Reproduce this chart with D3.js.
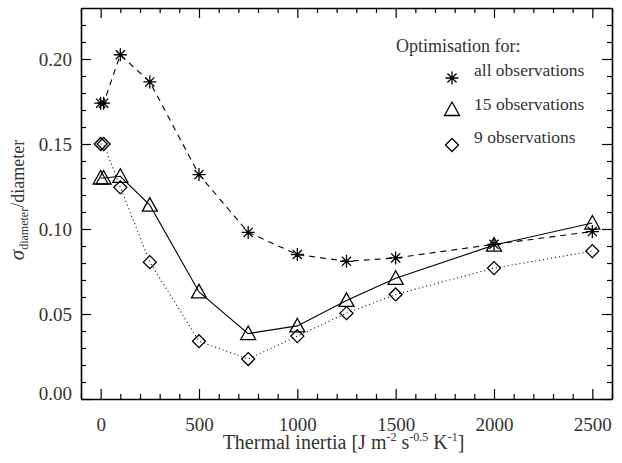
<!DOCTYPE html>
<html>
<head>
<meta charset="utf-8">
<script src="https://cdn.jsdelivr.net/npm/d3@7"></script>
</head>
<body style="margin:0">
<script>
// thermal inertia values (two runs near 0)
const inertia = [0, 15, 100, 250, 500, 750, 1000, 1250, 1500, 2000, 2500];
const allObs  = [0.174, 0.174, 0.2025, 0.1865, 0.132, 0.098, 0.085, 0.081, 0.083, 0.091, 0.0985];
const obs15   = [0.130, 0.130, 0.131, 0.114, 0.063, 0.0385, 0.043, 0.058, 0.071, 0.0905, 0.1035];
const obs9    = [0.150, 0.150, 0.1245, 0.0805, 0.034, 0.0235, 0.037, 0.0505, 0.0615, 0.077, 0.087];
const xTicks = [0, 500, 1000, 1500, 2000, 2500];
const yTicks = [0.00, 0.05, 0.10, 0.15, 0.20];

const series = [
  { name: "all observations", values: allObs, symbol: "asterisk", dash: "6,5" },
  { name: "15 observations",  values: obs15,  symbol: "triangle", dash: null },
  { name: "9 observations",   values: obs9,   symbol: "diamond",  dash: "1,3" }
];

const TXT = "#333";
const W = 622, H = 463;
const margin = { top: 8, right: 10, bottom: 64, left: 81 };
const width = W - margin.left - margin.right,
      height = H - margin.top - margin.bottom;

const svg = d3.select("body").append("svg")
  .attr("width", W).attr("height", H)
  .append("g")
  .attr("transform", `translate(${margin.left},${margin.top})`);

const x = d3.scaleLinear().domain([-100, 2600]).range([0, width]);
const y = d3.scaleLinear().domain([0, 0.23]).range([height, 0]);

const xMinor = d3.range(-100, 2601, 100).filter(v => v % 500 !== 0);
const yMinor = d3.range(1, 23).map(v => v / 100).filter(v => Math.round(v * 100) % 5 !== 0);

function serif(sel, size) {
  sel.attr("font-family", "Liberation Serif")
    .style("font-family", '"Liberation Serif"')
    .style("font-size", size + "px")
    .attr("fill", TXT);
}

function styleAxis(g) {
  g.attr("font-family", "Liberation Serif");
  g.selectAll("path").attr("stroke", "#000").attr("stroke-width", 1.6);
  g.selectAll("line").attr("stroke", "#000").attr("stroke-width", 1.2);
  g.selectAll("text").call(serif, 19);
}

// major axes with labels
svg.append("g").attr("transform", `translate(0,${height})`)
  .call(d3.axisBottom(x).tickValues(xTicks).tickSize(-10).tickSizeOuter(0).tickPadding(18.5).tickFormat(d3.format("d")))
  .call(styleAxis);
svg.append("g")
  .call(d3.axisLeft(y).tickValues(yTicks).tickSize(-10).tickSizeOuter(0).tickPadding(9).tickFormat(d3.format(".2f")))
  .call(styleAxis)
  .selectAll(".tick text").filter(d => d === 0).attr("dy", "0.05em");
svg.append("g")
  .call(d3.axisTop(x).tickValues(xTicks).tickSize(-10).tickSizeOuter(0).tickFormat(""))
  .call(styleAxis);
svg.append("g").attr("transform", `translate(${width},0)`)
  .call(d3.axisRight(y).tickValues(yTicks).tickSize(-10).tickSizeOuter(0).tickFormat(""))
  .call(styleAxis);

// minor ticks
[[d3.axisBottom(x).tickValues(xMinor), `translate(0,${height})`],
 [d3.axisTop(x).tickValues(xMinor), null],
 [d3.axisLeft(y).tickValues(yMinor), null],
 [d3.axisRight(y).tickValues(yMinor), `translate(${width},0)`]
].forEach(([ax, tr]) => {
  const g = svg.append("g");
  if (tr) g.attr("transform", tr);
  g.call(ax.tickSize(-5).tickSizeOuter(0).tickFormat("")).call(styleAxis);
  g.select("path").remove();
});

// axis titles
const xt = svg.append("text")
  .attr("x", width / 2 - 3).attr("y", height + 50)
  .attr("text-anchor", "middle")
  .call(serif, 20);
xt.append("tspan").text("Thermal inertia [J m");
xt.append("tspan").attr("dy", -8).style("font-size", "12px").text("-2");
xt.append("tspan").attr("dy", 8).text(" s");
xt.append("tspan").attr("dy", -8).style("font-size", "12px").text("-0.5");
xt.append("tspan").attr("dy", 8).text(" K");
xt.append("tspan").attr("dy", -8).style("font-size", "12px").text("-1");
xt.append("tspan").attr("dy", 8).text("]");

const yt = svg.append("text")
  .attr("transform", `translate(${24 - margin.left},${200 - margin.top}) rotate(-90)`)
  .attr("text-anchor", "middle")
  .call(serif, 18);
yt.append("tspan").style("font-style", "italic").style("font-size", "21px").text("σ");
yt.append("tspan").attr("dy", 4).style("font-size", "12px").text("diameter");
yt.append("tspan").attr("dy", -4).text("/diameter");

// symbols
function symbolPath(type, s) {
  if (type === "asterisk") {
    const a = s * 0.7;
    return `M${-s},0L${s},0M0,${-s}L0,${s}M${-a},${-a}L${a},${a}M${-a},${a}L${a},${-a}`;
  }
  if (type === "triangle") {
    return `M0,${-s}L${s},${s * 0.8}L${-s},${s * 0.8}Z`;
  }
  return `M0,${-s}L${s},0L0,${s}L${-s},0Z`;
}
const symSize = { asterisk: 6.5, triangle: 7.5, diamond: 6.5 };

series.forEach(sr => {
  const pts = inertia.map((t, i) => [t, sr.values[i]]);
  svg.append("path")
    .datum(pts)
    .attr("fill", "none")
    .attr("stroke", "#000")
    .attr("stroke-width", 1.1)
    .attr("stroke-dasharray", sr.dash)
    .attr("d", d3.line().x(d => x(d[0])).y(d => y(d[1])));
  svg.selectAll(null)
    .data(pts)
    .enter()
    .append("path")
    .attr("transform", d => `translate(${x(d[0])},${y(d[1])})`)
    .attr("d", symbolPath(sr.symbol, symSize[sr.symbol]))
    .attr("fill", "none")
    .attr("stroke", "#000")
    .attr("stroke-width", 1.3);
});

// legend
const lg = svg.append("g").attr("transform", `translate(${396 - margin.left},${52 - margin.top})`);
lg.append("text").attr("x", 0).attr("y", 0).call(serif, 18).text("Optimisation for:");
series.forEach((sr, i) => {
  const row = lg.append("g").attr("transform", `translate(0,${24 + i * 33.5})`);
  row.append("path")
    .attr("transform", `translate(56,${sr.symbol === "triangle" ? 0 : 2})`)
    .attr("d", symbolPath(sr.symbol, symSize[sr.symbol]))
    .attr("fill", "none").attr("stroke", "#000").attr("stroke-width", 1.3);
  row.append("text").attr("x", 78).attr("y", 0).call(serif, 17.5).text(sr.name);
});
</script>
</body>
</html>
